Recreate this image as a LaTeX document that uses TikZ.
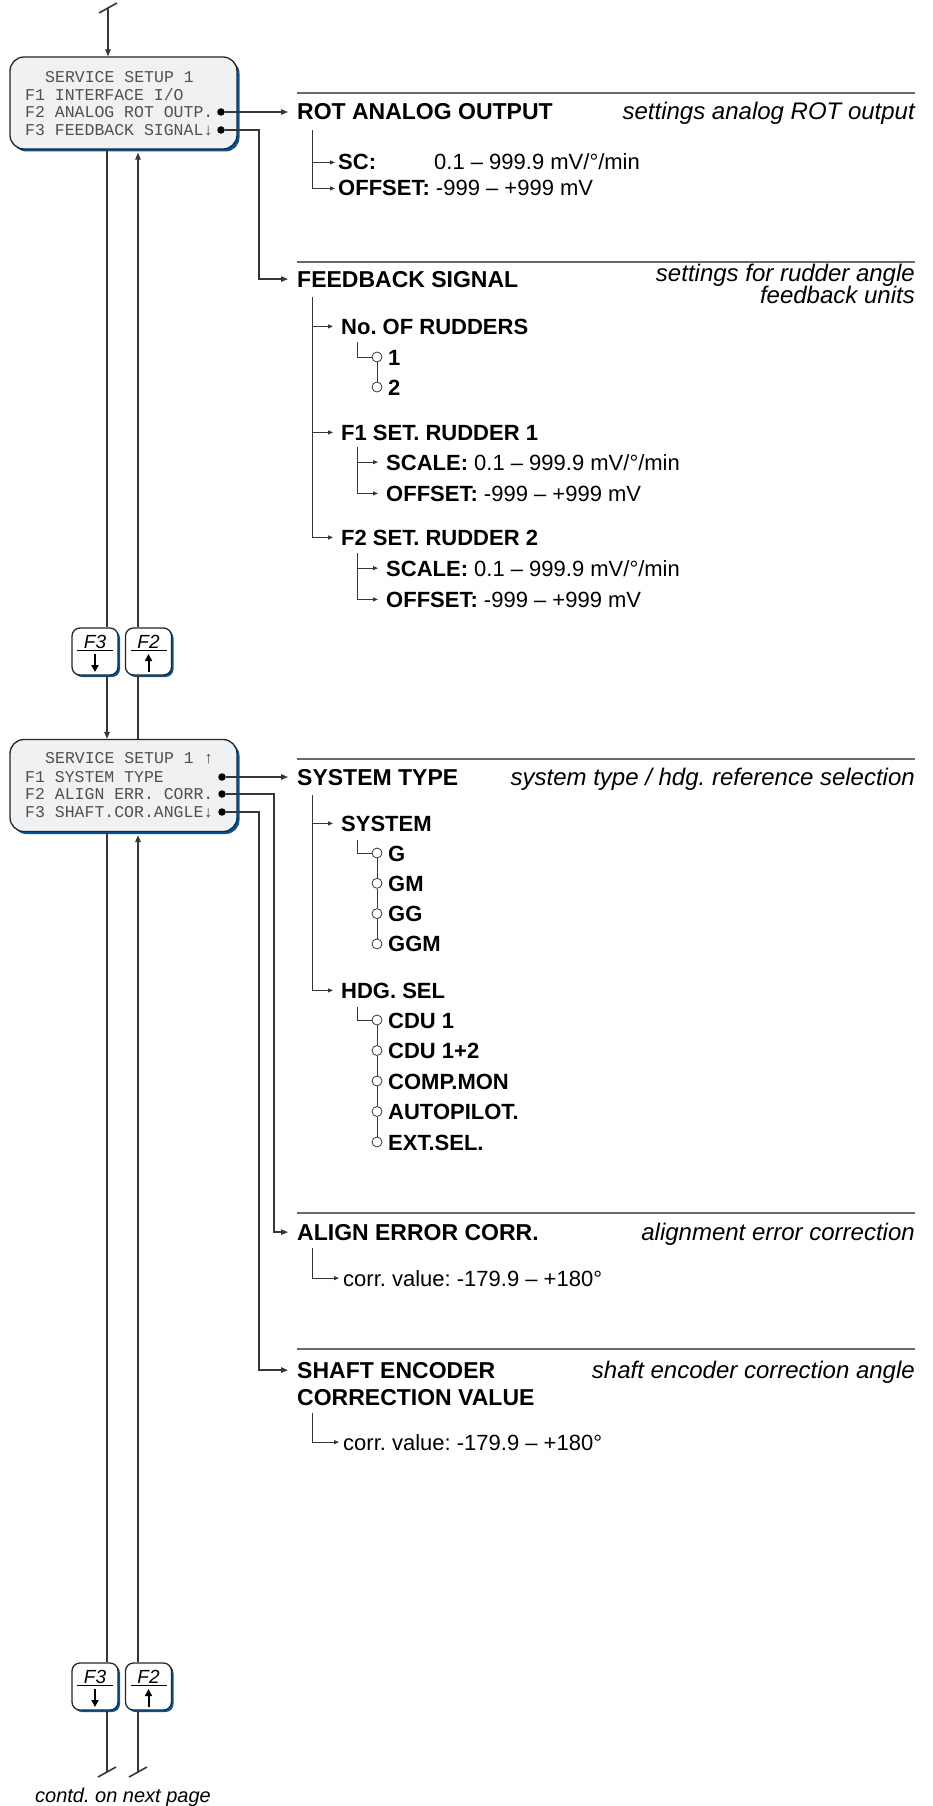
\documentclass[tikz,border=0pt]{standalone}
\usepackage{fontspec}
\setmainfont{Liberation Sans}
\newfontfamily\lcdfont{Liberation Mono}
\usetikzlibrary{arrows.meta,positioning,calc,shadows}
\definecolor{lcdFill}{RGB}{240,241,243}
\definecolor{lcdInk}{RGB}{80,80,80}
\definecolor{keyBlue}{RGB}{0,86,160}
\definecolor{wireGray}{RGB}{55,55,55}
\definecolor{ruleGray}{RGB}{105,105,105}
\frenchspacing

\begin{document}
\begin{tikzpicture}[x=1pt,y=-1pt,
    lcd/.style={draw=black!85,line width=1.3pt,fill=lcdFill,rounded corners=14pt,
                minimum width=227pt,minimum height=92pt,inner sep=0pt,
                drop shadow={shadow xshift=2.5pt,shadow yshift=-2.5pt,fill=keyBlue,opacity=1}},
    lcdtxt/.style={font=\lcdfont\fontsize{16.5}{18}\selectfont,text=lcdInk,
                   anchor=base west,inner sep=0pt},
    bul/.style={circle,fill=black,inner sep=0pt,minimum size=7.5pt},
    fkey/.style={draw=black!85,line width=1.3pt,fill=white,rounded corners=8pt,
                 minimum width=46pt,minimum height=47pt,inner sep=0pt,
                 drop shadow={shadow xshift=2pt,shadow yshift=-2pt,fill=keyBlue,opacity=1}},
    keytxt/.style={font=\fontsize{19}{22}\selectfont\itshape,inner sep=0pt},
    ttl/.style={font=\fontsize{23}{27}\selectfont\bfseries,anchor=base west,inner sep=0pt},
    dsc/.style={font=\fontsize{24}{28}\selectfont\itshape,anchor=base east,inner sep=0pt},
    itm/.style={font=\fontsize{22}{26}\selectfont,anchor=base west,inner sep=0pt},
    opt/.style={circle,draw=wireGray,fill=white,line width=0.8pt,inner sep=0pt,minimum size=10pt},
    flow/.style={draw=wireGray,line width=1.2pt},
    tree/.style={draw=wireGray,line width=1pt},
    hrule/.style={draw=ruleGray,line width=1.2pt},
    arr/.style={-{Triangle[length=7pt,width=5.5pt]}},
    sarr/.style={-{Triangle[length=5pt,width=4pt]}}]

    \useasboundingbox (0,0) rectangle (933,1806);

    % display boxes
    \node[lcd] (box1) at (123.5,103) {};
    \node[lcdtxt] (s1t) at (45,83) {SERVICE SETUP 1};
    \node[lcdtxt] (s1a) at (25,100.5) {F1 INTERFACE I/O};
    \node[lcdtxt] (s1b) at (25,118) {F2 ANALOG ROT OUTP.};
    \node[lcdtxt] (s1c) at (25,135.5) {F3 FEEDBACK SIGNAL↓};
    \node[bul] (b1f2) at (221,112) {};
    \node[bul] (b1f3) at (221,130) {};

    \node[lcd] (box2) at (123.5,785.5) {};
    \node[lcdtxt] (s2t) at (45,763.5) {SERVICE SETUP 1 ↑};
    \node[lcdtxt] (s2a) at (25,782.5) {F1 SYSTEM TYPE};
    \node[lcdtxt] (s2b) at (25,799.5) {F2 ALIGN ERR. CORR.};
    \node[lcdtxt] (s2c) at (25,817.5) {F3 SHAFT.COR.ANGLE↓};
    \node[bul] (b2f1) at (222,777) {};
    \node[bul] (b2f2) at (222,794) {};
    \node[bul] (b2f3) at (222,812) {};

    % function keys
    \node[fkey] (k1) at (95,651.5) {};
    \node[fkey] (k2) at (148.5,651.5) {};
    \node[fkey] (k3) at (95,1686.5) {};
    \node[fkey] (k4) at (148.5,1686.5) {};
    \foreach \k/\f/\d in {k1/F3/1,k2/F2/-1,k3/F3/1,k4/F2/-1} {
      \node[keytxt] (\k lbl) at ($(\k)+(0,-10)$) {\f};
      \draw[line width=1.6pt] ($(\k)+(-18,-1)$) -- ($(\k)+(18,-1)$);
      \draw[-{Triangle[length=7pt,width=7pt]},line width=2pt]
        ($(\k)+(0,11.5-9*\d)$) -- ($(\k)+(0,11.5+9*\d)$);
    }

    % menu lanes
    \coordinate (dn) at (107,0);
    \coordinate (up) at (138,0);
    \coordinate (entry) at (108,8);
    \draw[flow,line width=1.6pt] (99,13) -- (117,3);
    \draw[flow,arr] (entry) -- (entry |- box1.north);
    \draw[flow] (dn |- box1.south) -- (dn |- k1.north);
    \draw[flow,arr] (up |- k2.north) -- ($(up |- box1.south)+(0,3)$);
    \draw[flow,arr] (dn |- k1.south) -- (dn |- box2.north);
    \draw[flow] (up |- box2.north) -- (up |- k2.south);
    \draw[flow] (dn |- box2.south) -- (dn |- k3.north);
    \draw[flow,arr] (up |- k4.north) -- ($(up |- box2.south)+(0,3)$);
    \coordinate (exitA) at (107,1772);
    \coordinate (exitB) at (138,1772);
    \draw[flow] (dn |- k3.south) -- (exitA);
    \draw[flow] (up |- k4.south) -- (exitB);
    \draw[flow,line width=1.6pt] (98,1777) -- (116,1767);
    \draw[flow,line width=1.6pt] (129,1777) -- (147,1767);
    \node[font=\fontsize{20}{24}\selectfont\itshape,anchor=base,inner sep=0pt]
      (contd) at (123,1802) {contd. on next page};

    % ROT analog output
    \draw[hrule] (297,93) -- (915,93);
    \node[ttl] (rot) at (297,120) {ROT ANALOG OUTPUT};
    \node[dsc] (rotd) at (915,120) {settings analog ROT output};
    \draw[flow,arr] (b1f2) -- ($(b1f2 -| rot.west)+(-9,0)$);
    \coordinate (tA) at (312,130);
    \node[itm] (sc) at (338,170) {\bfseries SC:};
    \node[itm] (scv) at (434,170) {0.1 – 999.9 mV/°/min};
    \node[itm] (ofA) at (338,196) {\textbf{OFFSET:} -999 – +999 mV};
    \draw[tree,sarr] (tA |- sc.west) -- ($(sc.west)+(-3,0)$);
    \draw[tree,sarr] (tA) |- ($(ofA.west)+(-3,0)$);

    % feedback signal
    \draw[hrule] (297,262) -- (915,262);
    \node[ttl] (fbk) at (297,287) {FEEDBACK SIGNAL};
    \node[dsc] (fbkd) at (915,281) {settings for rudder angle};
    \node[dsc] (fbkd2) at (915,303) {feedback units};
    \coordinate (jB) at (259,200);
    \draw[flow,arr] (b1f3) -| (jB) |- ($(fbk.west)+(-9,0)$);
    \coordinate (tB) at (312,297);
    \node[itm] (nor) at (341,334) {\bfseries No. OF RUDDERS};
    \node[itm] (f1s) at (341,440) {\bfseries F1 SET. RUDDER 1};
    \node[itm] (f2s) at (341,545) {\bfseries F2 SET. RUDDER 2};
    \draw[tree,sarr] (tB |- nor.west) -- ($(nor.west)+(-8,0)$);
    \draw[tree,sarr] (tB |- f1s.west) -- ($(f1s.west)+(-8,0)$);
    \draw[tree,sarr] (tB) |- ($(f2s.west)+(-8,0)$);
    \coordinate (sN) at (357,342);
    \foreach \t [count=\i] in {1,2} {
      \node[opt] (rn\i) at (377,{357+30*(\i-1)}) {};
      \node[itm] (rnl\i) at (388,{365+30*(\i-1)}) {\bfseries\t};
    }
    \draw[tree] (sN) |- (rn1);
    \draw[tree] (rn1) -- (rn2);
    \foreach \r/\y in {1/447,2/553} {
      \coordinate (sR\r) at (357,\y);
      \node[itm] (scl\r) at (386,\y+23) {\textbf{SCALE:} 0.1 – 999.9 mV/°/min};
      \node[itm] (ofs\r) at (386,\y+54) {\textbf{OFFSET:} -999 – +999 mV};
      \draw[tree,sarr] (sR\r |- scl\r.west) -- ($(scl\r.west)+(-8,0)$);
      \draw[tree,sarr] (sR\r) |- ($(ofs\r.west)+(-8,0)$);
    }

    % system type
    \draw[hrule] (297,759) -- (915,759);
    \node[ttl] (sty) at (297,785) {SYSTEM TYPE};
    \node[dsc] (styd) at (915,785) {system type / hdg. reference selection};
    \draw[flow,arr] (b2f1) -- ($(b2f1 -| sty.west)+(-9,0)$);
    \coordinate (tC) at (312,795);
    \node[itm] (sys) at (341,831) {\bfseries SYSTEM};
    \node[itm] (hdg) at (341,998) {\bfseries HDG. SEL};
    \draw[tree,sarr] (tC |- sys.west) -- ($(sys.west)+(-8,0)$);
    \draw[tree,sarr] (tC) |- ($(hdg.west)+(-8,0)$);
    \coordinate (sS) at (357,840);
    \foreach \t [count=\i] in {G,GM,GG,GGM} {
      \node[opt] (so\i) at (377,{853+30.3*(\i-1)}) {};
      \node[itm] (sol\i) at (388,{861+30.3*(\i-1)}) {\bfseries\t};
    }
    \draw[tree] (sS) |- (so1);
    \foreach \i/\j in {1/2,2/3,3/4} {
      \draw[tree] (so\i) -- (so\j);
    }
    \coordinate (sH) at (357,1007);
    \foreach \t [count=\i] in {CDU 1,CDU 1+2,COMP.MON,AUTOPILOT.,EXT.SEL.} {
      \node[opt] (ho\i) at (377,{1020+30.5*(\i-1)}) {};
      \node[itm] (hol\i) at (388,{1028+30.5*(\i-1)}) {\bfseries\t};
    }
    \draw[tree] (sH) |- (ho1);
    \foreach \i/\j in {1/2,2/3,3/4,4/5} {
      \draw[tree] (ho\i) -- (ho\j);
    }

    % align error correction
    \draw[hrule] (297,1213) -- (915,1213);
    \node[ttl] (aln) at (297,1240) {ALIGN ERROR CORR.};
    \node[dsc] (alnd) at (915,1240) {alignment error correction};
    \coordinate (jD) at (274,1000);
    \draw[flow,arr] (b2f2) -| (jD) |- ($(aln.west)+(-9,0)$);
    \coordinate (tD) at (312,1248);
    \node[itm] (cvD) at (343,1286) {corr. value: -179.9 – +180°};
    \draw[tree,sarr] (tD) |- ($(cvD.west)+(-4,0)$);

    % shaft encoder
    \draw[hrule] (297,1349) -- (915,1349);
    \node[ttl] (shf) at (297,1378) {SHAFT ENCODER};
    \node[ttl] (shf2) at (297,1405) {CORRECTION VALUE};
    \node[dsc] (shfd) at (915,1378) {shaft encoder correction angle};
    \coordinate (jE) at (259,1000);
    \draw[flow,arr] (b2f3) -| (jE) |- ($(shf.west)+(-9,0)$);
    \coordinate (tE) at (312,1413);
    \node[itm] (cvE) at (343,1450) {corr. value: -179.9 – +180°};
    \draw[tree,sarr] (tE) |- ($(cvE.west)+(-4,0)$);
\end{tikzpicture}
\end{document}
